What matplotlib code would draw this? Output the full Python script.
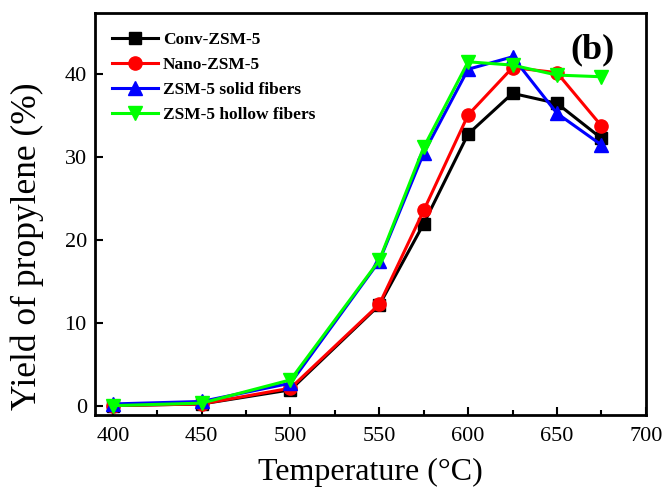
import matplotlib.pyplot as plt
from matplotlib.ticker import MultipleLocator

plt.rcParams['font.family'] = ['Liberation Serif', 'DejaVu Serif']

# Data
temperature = [400, 450, 500, 550, 575, 600, 625, 650, 675]
conv = [0.1, 0.3, 2.0, 12.2, 22.0, 32.8, 37.7, 36.5, 32.3]
nano = [0.1, 0.3, 2.2, 12.3, 23.6, 35.1, 40.8, 40.2, 33.8]
solid = [0.3, 0.6, 2.8, 17.5, 30.5, 40.6, 42.1, 35.3, 31.5]
hollow = [0.1, 0.4, 3.2, 17.6, 31.2, 41.5, 41.1, 39.9, 39.7]

fig = plt.figure(figsize=(6.65, 4.92), dpi=100)
ax = fig.add_axes([0.143, 0.157, 0.828, 0.817])

ax.plot(temperature, conv, color='black', marker='s', ms=8, lw=2.2, label='Conv-ZSM-5')
ax.plot(temperature, nano, color='#ff0000', marker='o', ms=9.5, lw=2.2, label='Nano-ZSM-5')
ax.plot(temperature, solid, color='#0000ff', marker='^', ms=10, lw=2.2, label='ZSM-5 solid fibers')
ax.plot(temperature, hollow, color='#00ff00', marker='v', ms=10, lw=2.2, label='ZSM-5 hollow fibers')

ax.set_xlim(390, 700)
ax.set_ylim(-1, 47.4)
ax.xaxis.set_major_locator(MultipleLocator(50))
ax.xaxis.set_minor_locator(MultipleLocator(25))
ax.yaxis.set_major_locator(MultipleLocator(10))
ax.tick_params(axis='both', which='both', direction='in', labelsize=16)
ax.tick_params(axis='both', which='major', length=6, width=1.5)
ax.tick_params(axis='x', which='major', pad=9)
ax.tick_params(axis='y', which='major', pad=6)
ax.tick_params(axis='x', which='minor', length=3.5, width=1.5)
for s in ax.spines.values():
    s.set_linewidth(2)

ax.set_xlabel('Temperature (°C)', fontsize=23, va='center')
ax.set_ylabel('Yield of propylene (%)', fontsize=25.5, va='center')
ax.xaxis.set_label_coords(0.5, -0.144)
ax.yaxis.set_label_coords(-0.123, 0.42)

ax.text(0.944, 0.908, '(b)', transform=ax.transAxes, fontsize=26, fontweight='bold',
        ha='right', va='center')

ax.legend(loc='upper left', frameon=False, prop={'weight': 'bold', 'size': 12.5},
          handlelength=2.7, handletextpad=0.25, labelspacing=0.52,
          borderaxespad=0.0, borderpad=0.0, bbox_to_anchor=(0.03, 0.953))

plt.savefig('out.png', dpi=100)
